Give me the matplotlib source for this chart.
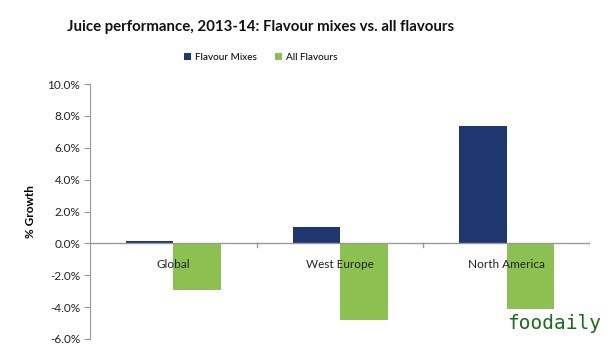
import numpy as np
import matplotlib.pyplot as plt

regions = ['Global', 'West Europe', 'North America']
flavour_mixes = [0.15, 1.0, 7.4]
all_flavours = [-2.9, -4.8, -4.1]
yticks = [-6, -4, -2, 0, 2, 4, 6, 8, 10]

navy = '#1f3770'
green = '#8cc152'

plt.rcParams['font.family'] = ['Lato', 'DejaVu Sans']

fig = plt.figure(figsize=(6.1, 3.61), dpi=100)
ax = fig.add_axes([0.1475, 0.061, 0.82, 0.706])

x = np.arange(len(regions))
w = 0.285
ax.bar(x - w / 2, flavour_mixes, w, color=navy, label='Flavour Mixes')
ax.bar(x + w / 2, all_flavours, w, color=green, label='All Flavours')

ax.set_xlim(-0.5, 2.5)
ax.set_ylim(-6, 10)
ax.set_yticks(yticks)
ax.set_yticklabels([f'{v:.1f}%' for v in yticks], fontsize=8.5, color='#222222')
ax.set_xticks([])
ax.tick_params(axis='y', length=4, color='#999999', pad=3)

for s in ['top', 'right', 'bottom']:
    ax.spines[s].set_visible(False)
ax.spines['left'].set_color('#999999')

# zero line with category separators
ax.axhline(0, color='#999999', lw=1, zorder=3)
for b in [0.5, 1.5, 2.5]:
    ax.plot([b, b], [0, -0.25], color='#999999', lw=1, zorder=3)

for xi, name in zip(x, regions):
    ax.text(xi, -1.35, name, ha='center', va='center', fontsize=8.5, color='#222222', zorder=4)

ax.set_ylabel('% Growth', fontsize=8.5, fontweight='bold', labelpad=8)

fig.text(0.427, 0.925, 'Juice performance, 2013-14: Flavour mixes vs. all flavours',
         ha='center', va='center', fontsize=10.8, fontweight='bold', color='#111111')

fig.legend(loc='center', bbox_to_anchor=(0.427, 0.84), ncol=2, frameon=False,
           fontsize=7.2, handlelength=0.7, handleheight=0.7, columnspacing=1.8,
           handletextpad=0.4)

fig.text(0.985, 0.105, 'foodaily', ha='right', va='center', fontsize=14,
         family='DejaVu Sans Mono', color='#1a6b1a')

fig.savefig('out.png', dpi=100)
